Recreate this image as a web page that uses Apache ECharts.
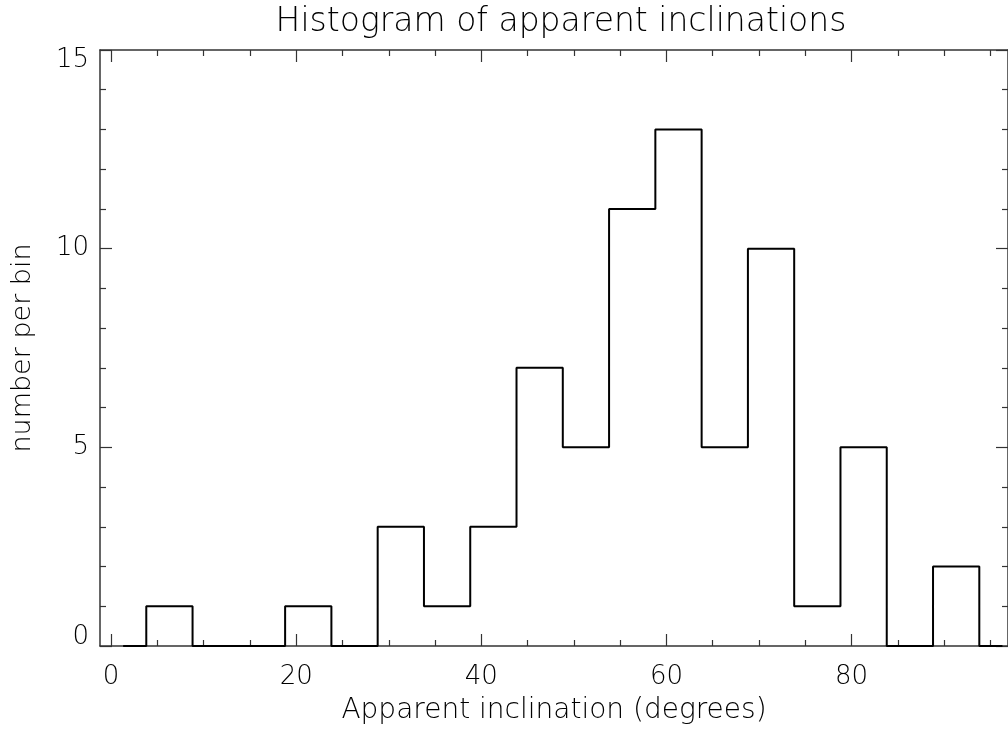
<!DOCTYPE html>
<html>
<head>
<meta charset="utf-8">
<script src="https://cdn.jsdelivr.net/npm/echarts@6/dist/echarts.min.js"></script>
<style>html,body{margin:0;padding:0;background:#fff;}#c{width:1008px;height:730px;}</style>
</head>
<body>
<div id="c"></div>
<script>
const binCenters = [1.3, 6.3, 11.3, 16.3, 21.3, 26.3, 31.3, 36.3, 41.3, 46.3, 51.3, 56.3, 61.3, 66.3, 71.3, 76.3, 81.3, 86.3, 91.3, 96.3];
const counts = [0, 1, 0, 0, 1, 0, 3, 1, 3, 7, 5, 11, 13, 5, 10, 1, 5, 0, 2, 0];
const xMajorTicks = [0, 20, 40, 60, 80];
const xMinorTicks = [5, 10, 15, 25, 30, 35, 45, 50, 55, 65, 70, 75, 85, 90, 95];
const yMajorTicks = [0, 5, 10, 15];
const yMinorTicks = [1, 2, 3, 4, 6, 7, 8, 9, 11, 12, 13, 14];
const titleText = 'Histogram of apparent inclinations';
const xTitle = 'Apparent inclination (degrees)';
const yTitle = 'number per bin';

const FONT = "'DejaVu Sans', sans-serif";
const AX = '#333';
const xMin = -1.2, xMax = 96.9, yMin = 0, yMax = 15;

function xAx(pos, ticks, len, showLine, labels) {
  return {
    type: 'value', position: pos, min: xMin, max: xMax,
    axisLine: { show: showLine, onZero: false, lineStyle: { color: AX, width: 1.5 } },
    splitLine: { show: false },
    axisTick: { show: true, inside: true, length: len, customValues: ticks, lineStyle: { color: AX, width: 1.2 } },
    axisLabel: labels ? { show: true, customValues: ticks, margin: 18, color: '#000', fontSize: 26, fontFamily: FONT, fontWeight: 200 } : { show: false },
    name: labels ? xTitle : '', nameLocation: 'middle', nameGap: 51,
    nameTextStyle: { color: '#000', fontSize: 28, fontFamily: FONT, fontWeight: 200 }
  };
}
function yAx(pos, ticks, len, showLine, labels) {
  return {
    type: 'value', position: pos, min: yMin, max: yMax,
    axisLine: { show: showLine, onZero: false, lineStyle: { color: AX, width: 1.5 } },
    splitLine: { show: false },
    axisTick: { show: true, inside: true, length: len, customValues: ticks, lineStyle: { color: AX, width: 1.2 } },
    axisLabel: labels ? {
      show: true, customValues: ticks, margin: 11, color: '#000', fontSize: 26, fontFamily: FONT, fontWeight: 200,
      formatter: function (v) {
        if (v === yMin) return '{lo|' + v + '}';
        if (v === yMax) return '{hi|' + v + '}';
        return '{n|' + v + '}';
      },
      rich: {
        lo: { fontSize: 26, fontFamily: FONT, fontWeight: 200, color: '#000', padding: [0, 0, 18, 0] },
        hi: { fontSize: 26, fontFamily: FONT, fontWeight: 200, color: '#000', padding: [20, 0, 0, 0] },
        n: { fontSize: 26, fontFamily: FONT, fontWeight: 200, color: '#000' }
      }
    } : { show: false },
    name: labels ? yTitle : '', nameLocation: 'middle', nameGap: 64, nameRotate: 90,
    nameTextStyle: { color: '#000', fontSize: 27, fontFamily: FONT, fontWeight: 200 }
  };
}

const chart = echarts.init(document.getElementById('c'), null, { renderer: 'canvas' });
chart.setOption({
  backgroundColor: '#fff',
  animation: false,
  title: {
    text: titleText, left: 556, top: 1, textAlign: 'center',
    textStyle: { color: '#000', fontSize: 33, fontFamily: FONT, fontWeight: 200 }
  },
  grid: { left: 100, right: -2, top: 50, bottom: 84, containLabel: false },
  xAxis: [
    xAx('bottom', xMajorTicks, 12, true, true),
    xAx('bottom', xMinorTicks, 6, false, false),
    xAx('top', xMajorTicks, 12, true, false),
    xAx('top', xMinorTicks, 6, false, false)
  ],
  yAxis: [
    yAx('left', yMajorTicks, 12, true, true),
    yAx('left', yMinorTicks, 6, false, false),
    yAx('right', yMajorTicks, 12, true, false),
    yAx('right', yMinorTicks, 6, false, false)
  ],
  series: [{
    type: 'line', step: 'middle', symbol: 'none', xAxisIndex: 0, yAxisIndex: 0,
    lineStyle: { color: '#000', width: 2 },
    data: binCenters.map((x, i) => [x, counts[i]])
  }]
});
</script>
</body>
</html>
